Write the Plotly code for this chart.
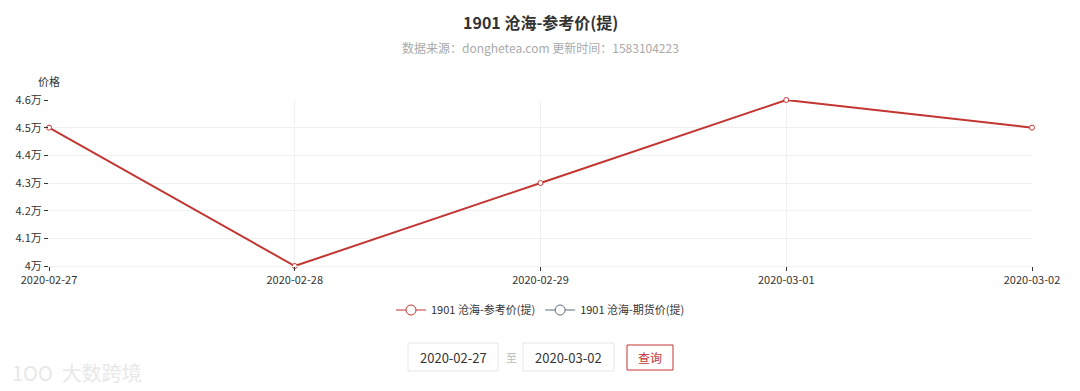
import plotly.graph_objects as go

# ---- data ----
dates = ["2020-02-27", "2020-02-28", "2020-02-29", "2020-03-01", "2020-03-02"]
ref_price = [45000, 40000, 43000, 46000, 45000]
futures_price = []  # no data shown
y_ticks = [40000, 41000, 42000, 43000, 44000, 45000, 46000]
y_tick_labels = [f"{v/10000:g}万" for v in y_ticks]
series_names = ["1901 沧海-参考价(提)", "1901 沧海-期货价(提)"]
series_colors = ["#c23531", "#5b6e7c"]
title_text = "1901 沧海-参考价(提)"
subtitle_text = "数据来源：donghetea.com 更新时间：1583104223"

FONT = "Microsoft YaHei, Noto Sans CJK SC, sans-serif"
W, H = 1080, 391
L, R, T, B = 49, 1032, 100, 266

def px(x):
    return (x - L) / (R - L)

def py(y):
    return (B - y) / (B - T)

fig = go.Figure()
fig.add_trace(go.Scatter(
    x=dates, y=ref_price, name=series_names[0], mode="lines+markers",
    line=dict(color=series_colors[0], width=2),
    marker=dict(symbol="circle", size=5, color="white", line=dict(color=series_colors[0], width=1)),
    cliponaxis=False, showlegend=False, legendgroup="a",
))
# legend entries (hollow circle with line)
fig.add_trace(go.Scatter(
    x=[None], y=[None], name=series_names[0], mode="lines+markers", legendgroup="a",
    line=dict(color=series_colors[0], width=1),
    marker=dict(symbol="circle", size=10, color="white", line=dict(color=series_colors[0], width=1)),
    showlegend=True,
))
fig.add_trace(go.Scatter(
    x=[None] if not futures_price else dates, y=[None] if not futures_price else futures_price,
    name=series_names[1], mode="lines+markers",
    line=dict(color=series_colors[1], width=1),
    marker=dict(symbol="circle", size=10, color="white", line=dict(color=series_colors[1], width=1)),
    showlegend=True,
))

shapes = []
annotations = []

annotations.append(dict(text=f"<b>{title_text}</b>", x=px(540), y=py(22), xref="paper", yref="paper",
                        showarrow=False, font=dict(size=16, color="#333", family=FONT), xanchor="center", yanchor="middle"))
annotations.append(dict(text=subtitle_text, x=px(540), y=py(47), xref="paper", yref="paper",
                        showarrow=False, font=dict(size=12, color="#aaa", family=FONT), xanchor="center", yanchor="middle"))
annotations.append(dict(text="价格", x=px(49), y=py(81), xref="paper", yref="paper",
                        showarrow=False, font=dict(size=11, color="#333", family=FONT), xanchor="center", yanchor="middle"))

# date inputs
for x0, x1, txt in [(408, 498, dates[0]), (523, 614, dates[-1])]:
    shapes.append(dict(type="rect", xref="paper", yref="paper", x0=px(x0), x1=px(x1), y0=py(343), y1=py(371),
                       line=dict(color="#e6e6e6", width=1), fillcolor="white"))
    annotations.append(dict(text=txt, x=px((x0 + x1) / 2), y=py(357), xref="paper", yref="paper",
                            showarrow=False, font=dict(size=13, color="#333", family=FONT), xanchor="center", yanchor="middle"))
annotations.append(dict(text="至", x=px(511), y=py(357), xref="paper", yref="paper",
                        showarrow=False, font=dict(size=11, color="#bbb", family=FONT), xanchor="center", yanchor="middle"))
shapes.append(dict(type="rect", xref="paper", yref="paper", x0=px(627), x1=px(673), y0=py(345), y1=py(370),
                   line=dict(color="#c23531", width=1), fillcolor="white"))
annotations.append(dict(text="查询", x=px(650), y=py(357), xref="paper", yref="paper",
                        showarrow=False, font=dict(size=12, color="#c23531", family=FONT), xanchor="center", yanchor="middle"))

# watermark
annotations.append(dict(text="1OO  大数跨境", x=px(10), y=py(372), xref="paper", yref="paper",
                        showarrow=False, font=dict(size=20, color="#e8e8e8", family=FONT), xanchor="left", yanchor="middle"))

fig.update_layout(
    width=W, height=H,
    margin=dict(l=L, r=W - R, t=T, b=H - B),
    paper_bgcolor="white", plot_bgcolor="white",
    font=dict(family=FONT, size=11, color="#333"),
    showlegend=True,
    legend=dict(orientation="h", x=0.5, xanchor="center", y=py(310), yanchor="middle",
                font=dict(size=11, color="#333", family=FONT)),
    xaxis=dict(type="category", range=[0, len(dates) - 1], showgrid=True, gridcolor="#f0f0f0",
               showline=True, linecolor="#f0f0f0", ticks="outside", ticklen=4, tickcolor="#333",
               tickfont=dict(size=11, color="#333"), zeroline=False),
    yaxis=dict(range=[y_ticks[0], y_ticks[-1]], tickvals=y_ticks, ticktext=y_tick_labels,
               showgrid=True, gridcolor="#f0f0f0", showline=False, ticks="outside", ticklen=4,
               tickcolor="#333", tickfont=dict(size=11, color="#333"), zeroline=False),
    shapes=shapes, annotations=annotations,
)

fig.write_html("out.html")
